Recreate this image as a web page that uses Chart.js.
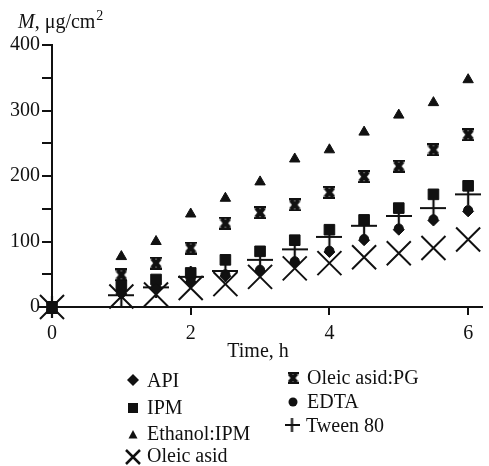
<!DOCTYPE html>
<html>
<head>
<meta charset="utf-8">
<script src="https://cdn.jsdelivr.net/npm/chart.js@4"></script>
<style>
  html, body { margin: 0; padding: 0; background: #fff; }
  #wrap { width: 489px; height: 466px; }
</style>
</head>
<body>
<div id="wrap"><canvas id="fluxChart" width="489" height="466"></canvas></div>
<script>
// Dữ liệu
const hours      = [0, 1, 1.5, 2, 2.5, 3, 3.5, 4, 4.5, 5, 5.5, 6];
const api        = [0, 20, 27, 38, 47, 55, 68, 84, 102, 118, 132, 146];
const ipm        = [0, 33, 42, 52, 72, 85, 102, 118, 133, 151, 172, 185];
const ethanolIpm = [0, 77, 100, 142, 166, 191, 226, 240, 267, 293, 312, 347];
const oleic      = [0, 16, 19, 29, 35, 46, 59, 67, 76, 82, 90, 103];
const oleicPg    = [0, 49, 67, 90, 128, 144, 156, 175, 199, 215, 240, 263];
const edta       = [0, 24, 31, 42, 50, 57, 70, 86, 104, 120, 134, 148];
const tween      = [0, 18, 30, 46, 55, 72, 88, 107, 124, 139, 151, 172];
const xTicks = [0, 2, 4, 6];
const yTicks = [0, 100, 200, 300, 400];

const INK = '#111';
const SERIF = '"Liberation Serif", "DejaVu Serif", serif';

function pts(ys) { return hours.map((h, i) => ({ x: h, y: ys[i] })); }

function makeMarker(w, h, draw) {
    const c = document.createElement('canvas');
    c.width = w; c.height = h;
    const g = c.getContext('2d');
    g.strokeStyle = INK; g.fillStyle = INK;
    draw(g, w, h);
    return c;
}

// ký hiệu "x" đậm có nắp (Oleic asid:PG)
function drawPg(g, w, h) {
    g.lineWidth = w * 0.36;
    g.lineCap = 'butt';
    g.beginPath();
    g.moveTo(w * 0.18, h * 0.14); g.lineTo(w * 0.82, h * 0.86);
    g.moveTo(w * 0.82, h * 0.14); g.lineTo(w * 0.18, h * 0.86);
    g.stroke();
    g.lineWidth = h * 0.18;
    g.beginPath();
    g.moveTo(0, h * 0.09); g.lineTo(w, h * 0.09);
    g.moveTo(0, h * 0.91); g.lineTo(w, h * 0.91);
    g.stroke();
}
function drawPlus(g, w, h) {
    g.lineWidth = 2.2;
    g.beginPath();
    g.moveTo(0, h / 2); g.lineTo(w, h / 2);
    g.moveTo(w / 2, 0); g.lineTo(w / 2, h);
    g.stroke();
}

const pgMarker = makeMarker(12, 13, drawPg);
const plusMarker = makeMarker(26, 22, drawPlus);

function ds(label, ys, style, radius, extra) {
    return Object.assign({
        label: label,
        data: pts(ys),
        pointStyle: style,
        pointRadius: radius,
        pointHoverRadius: radius,
        pointBackgroundColor: INK,
        pointBorderColor: INK,
        pointBorderWidth: 1,
        showLine: false,
        clip: false
    }, extra || {});
}

// chú thích vẽ tay (2 cột)
const legendItems = [
    { text: 'API',          kind: 'diamond',  mx: 133, my: 380, ty: 387 },
    { text: 'IPM',          kind: 'square',   mx: 133, my: 408, ty: 414 },
    { text: 'Ethanol:IPM',  kind: 'triangle', mx: 133, my: 435, ty: 440 },
    { text: 'Oleic asid',   kind: 'x',        mx: 133, my: 457, ty: 462 },
    { text: 'Oleic asid:PG',kind: 'pg',       mx: 293, my: 378, ty: 384 },
    { text: 'EDTA',         kind: 'circle',   mx: 293, my: 402, ty: 408 },
    { text: 'Tween 80',     kind: 'plus',     mx: 292, my: 425, ty: 432 }
];

function legendMarker(ctx, kind, x, y) {
    ctx.save();
    ctx.fillStyle = INK; ctx.strokeStyle = INK;
    ctx.beginPath();
    if (kind === 'diamond') {
        ctx.moveTo(x, y - 6); ctx.lineTo(x + 6, y); ctx.lineTo(x, y + 6); ctx.lineTo(x - 6, y);
        ctx.closePath(); ctx.fill();
    } else if (kind === 'square') {
        ctx.rect(x - 5, y - 5, 10, 10); ctx.fill();
    } else if (kind === 'triangle') {
        ctx.moveTo(x, y - 5); ctx.lineTo(x + 4.5, y + 3.5); ctx.lineTo(x - 4.5, y + 3.5);
        ctx.closePath(); ctx.fill();
    } else if (kind === 'x') {
        ctx.lineWidth = 2.5;
        ctx.moveTo(x - 7, y - 7); ctx.lineTo(x + 7, y + 7);
        ctx.moveTo(x + 7, y - 7); ctx.lineTo(x - 7, y + 7);
        ctx.stroke();
    } else if (kind === 'pg') {
        ctx.drawImage(makeMarker(11, 12, drawPg), x - 5.5, y - 6);
    } else if (kind === 'circle') {
        ctx.arc(x, y, 4.5, 0, Math.PI * 2); ctx.fill();
    } else if (kind === 'plus') {
        ctx.drawImage(makeMarker(15, 14, drawPlus), x - 7.5, y - 7);
    }
    ctx.restore();
}

const extrasPlugin = {
    id: 'extras',
    afterDraw(chart) {
        const ctx = chart.ctx;
        ctx.save();
        ctx.fillStyle = INK;
        ctx.textBaseline = 'alphabetic';
        ctx.textAlign = 'left';
        // tiêu đề trục y
        let x = 18;
        ctx.font = 'italic 20px ' + SERIF;
        ctx.fillText('M', x, 28);
        x += ctx.measureText('M').width;
        ctx.font = '20px ' + SERIF;
        ctx.fillText(', \u03bcg/cm', x, 28);
        x += ctx.measureText(', \u03bcg/cm').width;
        ctx.font = '14px ' + SERIF;
        ctx.fillText('2', x + 1, 20);
        // tiêu đề trục x
        ctx.font = '20px ' + SERIF;
        ctx.textAlign = 'center';
        ctx.fillText('Time, h', 258, 357);
        // chú thích
        ctx.textAlign = 'left';
        legendItems.forEach(it => {
            legendMarker(ctx, it.kind, it.mx, it.my);
            ctx.fillStyle = INK;
            ctx.fillText(it.text, it.mx + 14, it.ty);
        });
        ctx.restore();
    }
};

const ctx = document.getElementById('fluxChart').getContext('2d');
new Chart(ctx, {
    type: 'scatter',
    data: {
        datasets: [
            ds('API', api, 'rectRot', 5.5),
            ds('IPM', ipm, 'rect', 7.5),
            ds('Ethanol:IPM', ethanolIpm, 'triangle', 6),
            ds('Oleic asid', oleic, 'crossRot', 17, { pointBorderWidth: 2 }),
            ds('Oleic asid:PG', oleicPg, pgMarker, 6),
            ds('EDTA', edta, 'circle', 4.5),
            ds('Tween 80', tween, plusMarker, 12)
        ]
    },
    options: {
        responsive: false,
        animation: false,
        events: [],
        layout: { autoPadding: false, padding: { top: 45, right: 7, left: 0, bottom: 103 } },
        plugins: {
            legend: { display: false },
            tooltip: { enabled: false }
        },
        scales: {
            x: {
                type: 'linear',
                min: 0,
                max: 6.2,
                afterBuildTicks: (s) => { s.ticks = xTicks.map(v => ({ value: v })); },
                afterFit: (s) => { s.height = 56; },
                ticks: { color: INK, font: { family: SERIF, size: 20 }, padding: 7, maxRotation: 0 },
                grid: { drawOnChartArea: false, drawTicks: true, tickLength: 8, color: INK, lineWidth: 2 },
                border: { display: true, color: INK, width: 2 }
            },
            y: {
                min: 0,
                max: 400,
                afterBuildTicks: (s) => {
                    const t = [];
                    for (let v = 0; v <= 400; v += 50) t.push({ value: v });
                    s.ticks = t;
                },
                afterFit: (s) => { s.width = 52; },
                ticks: {
                    color: INK, font: { family: SERIF, size: 20 }, padding: 2,
                    callback: (v) => yTicks.includes(v) ? String(v) : ''
                },
                grid: { drawOnChartArea: false, drawTicks: true, tickLength: 10, color: INK, lineWidth: 2 },
                border: { display: true, color: INK, width: 2 }
            }
        }
    },
    plugins: [extrasPlugin]
});
</script>
</body>
</html>
